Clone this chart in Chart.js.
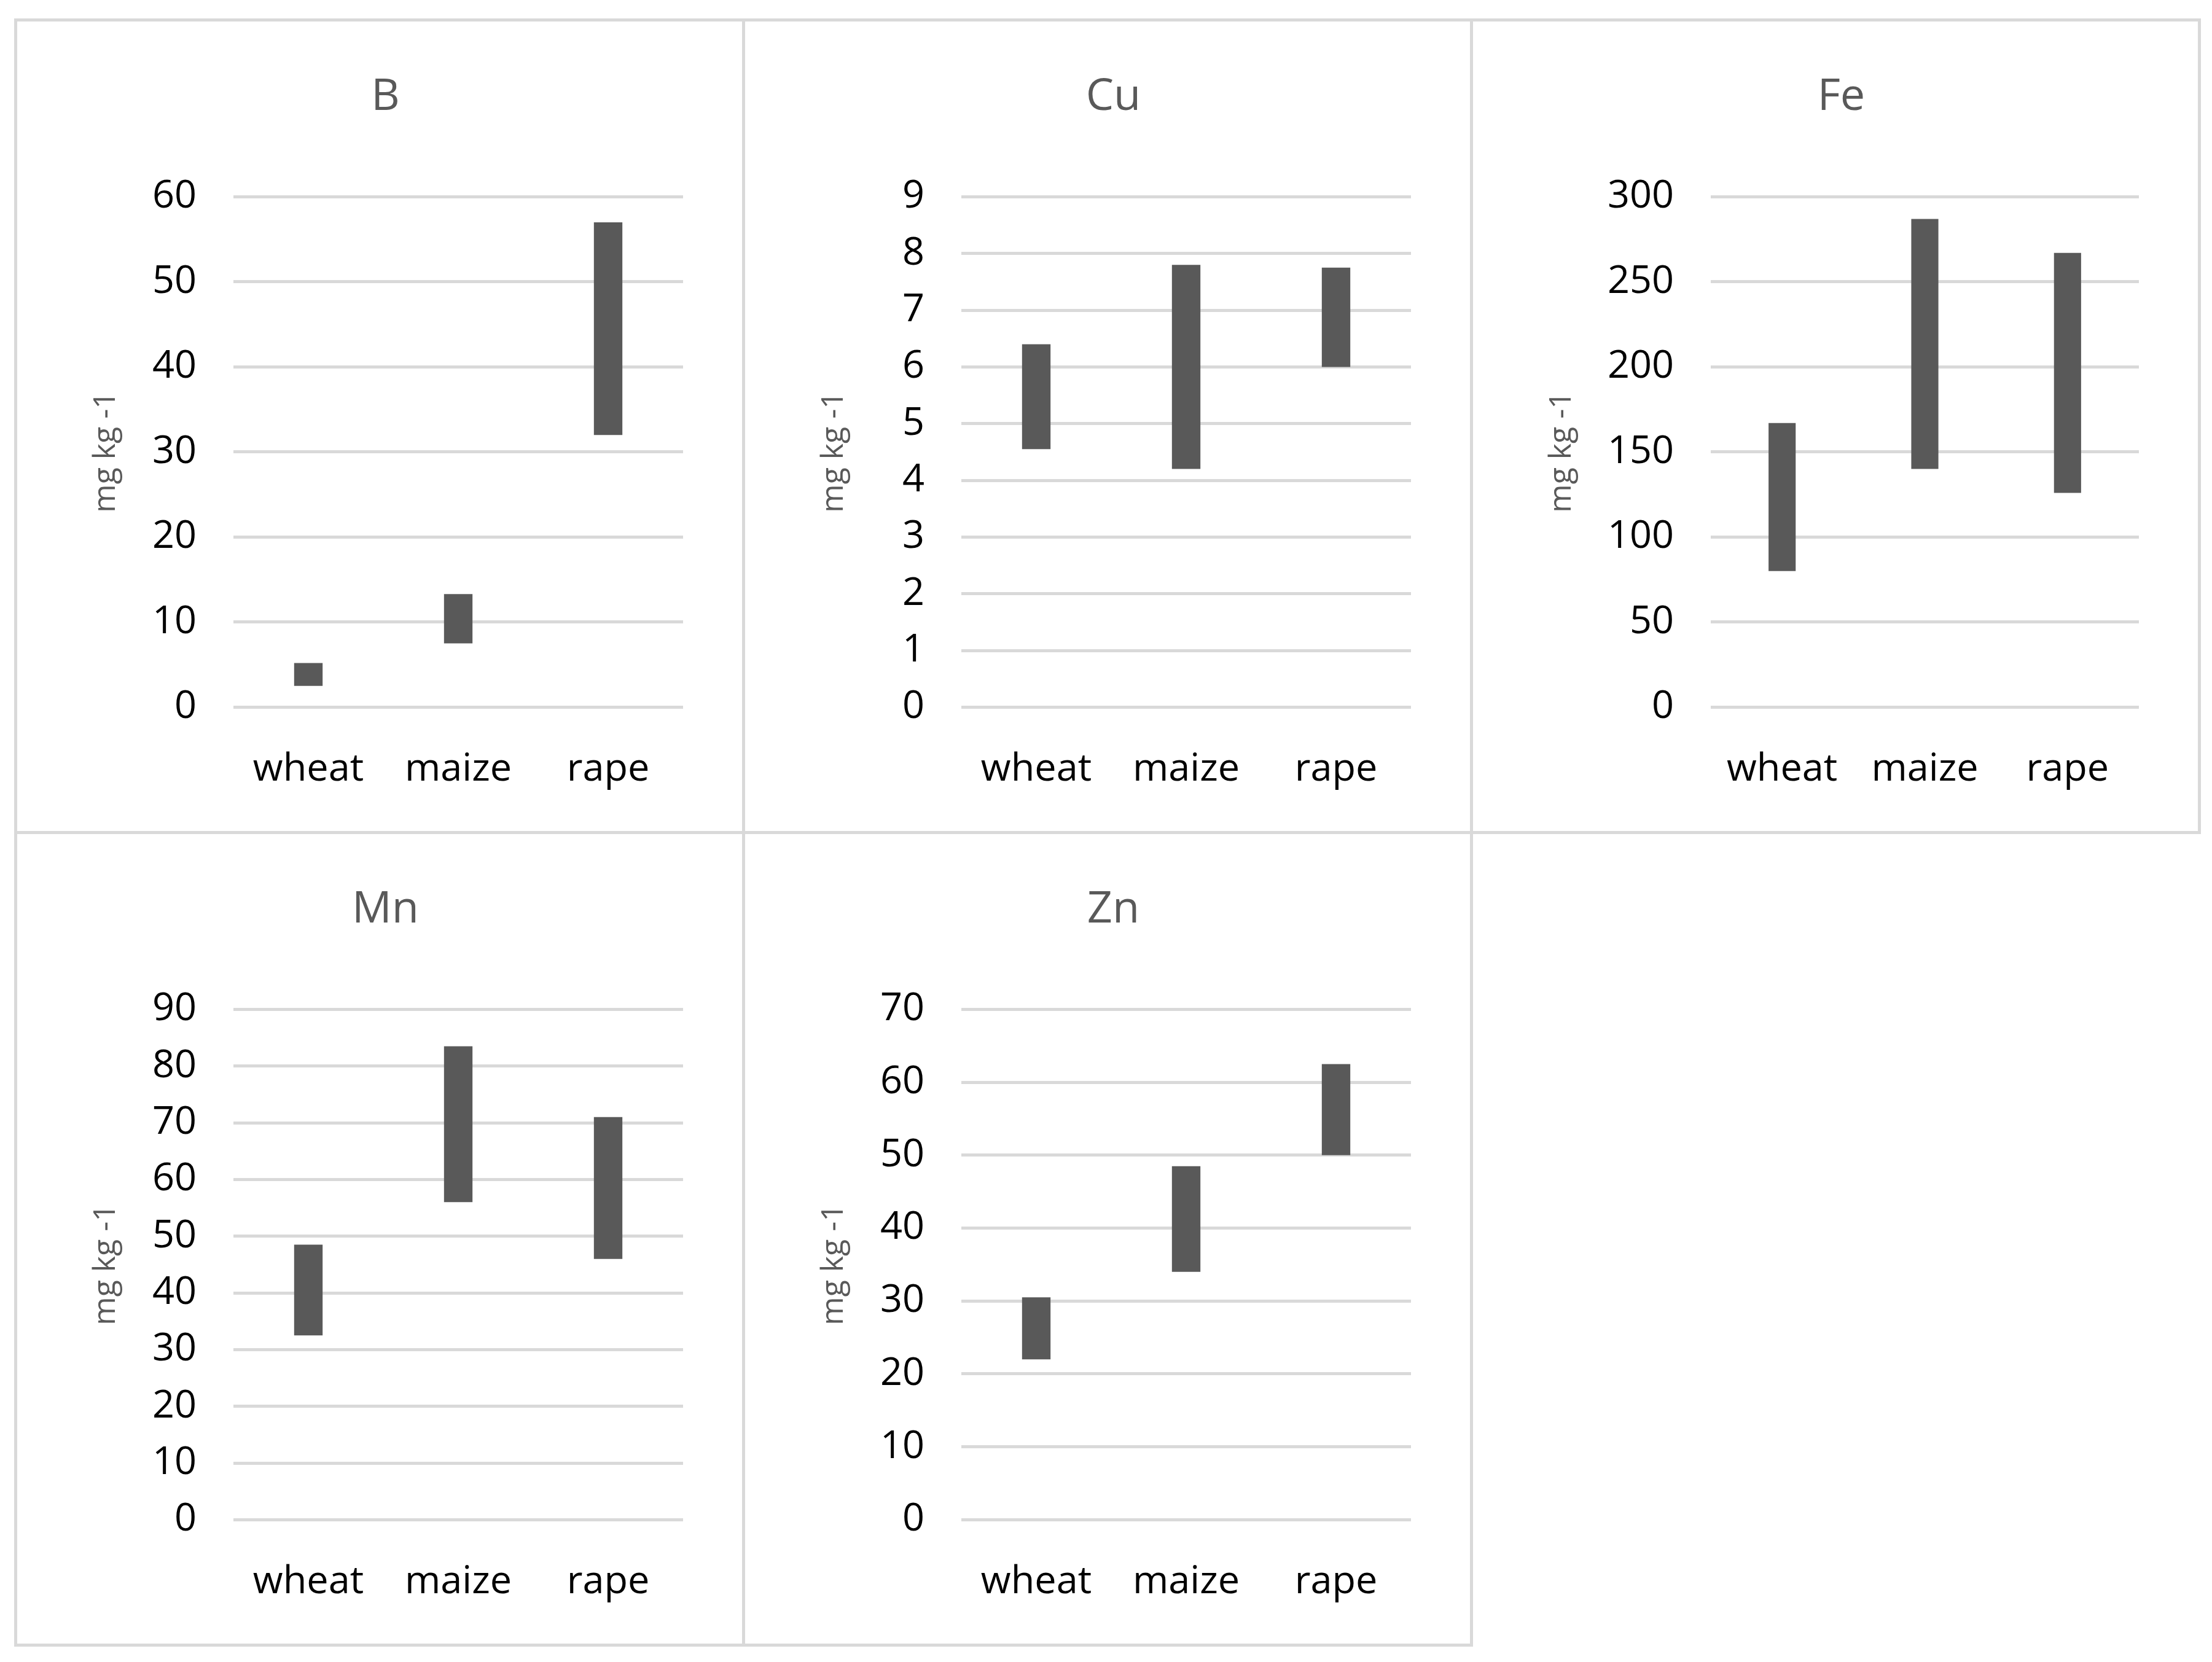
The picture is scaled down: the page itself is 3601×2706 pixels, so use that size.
<!DOCTYPE html>
<html><head><meta charset="utf-8">
<script src="https://cdn.jsdelivr.net/npm/chart.js@4"></script>
<style>
body{margin:0;background:#fff;width:3601px;height:2706px;position:relative;font-family:"Open Sans",sans-serif}
.panel{position:absolute;box-sizing:border-box;border:5px solid #d9d9d9;background:#fff}
.panel canvas{position:absolute;left:0;top:0}
</style></head><body>
<script>
const crops = ["wheat","maize","rape"];
// [low, high] per crop
const bRange  = [[2.5,5.2],[7.5,13.3],[32,57]];
const cuRange = [[4.55,6.4],[4.2,7.8],[6,7.75]];
const feRange = [[80,167],[140,287],[126,267]];
const mnRange = [[32.5,48.5],[56,83.5],[46,71]];
const znRange = [[22,30.5],[34,48.5],[50,62.5]];
const titles = ["B","Cu","Fe","Mn","Zn"];
const yMax  = [60,9,300,90,70];
const yStep = [10,1,50,10,10];
const ranges = [bRange,cuRange,feRange,mnRange,znRange];
const unitLabel = "mg kg -1";

const panels = [
  {x:23,y:30,w:1190,h:1328,left:352},
  {x:1208,y:30,w:1190,h:1328,left:352},
  {x:2393,y:30,w:1190,h:1328,left:387},
  {x:23,y:1353,w:1190,h:1328,left:352},
  {x:1208,y:1353,w:1190,h:1328,left:352}
];

panels.forEach((p,i)=>{
  const div=document.createElement("div");
  div.className="panel";
  Object.assign(div.style,{left:p.x+"px",top:p.y+"px",width:p.w+"px",height:p.h+"px"});
  const cv=document.createElement("canvas");
  cv.width=p.w-10; cv.height=p.h-10;
  cv.style.width=(p.w-10)+"px"; cv.style.height=(p.h-10)+"px";
  div.appendChild(cv);
  document.body.appendChild(div);
  new Chart(cv,{
    type:"bar",
    data:{labels:crops,datasets:[{data:ranges[i],backgroundColor:"#595959",barPercentage:0.19,categoryPercentage:1}]},
    options:{
      responsive:false,animation:false,devicePixelRatio:1,
      layout:{padding:{left:115,right:96,top:0,bottom:6}},
      plugins:{legend:{display:false},tooltip:{enabled:false},
        title:{display:true,text:titles[i],color:"#595959",font:{family:"Open Sans",size:72,weight:"normal"},padding:{top:80,bottom:119}}},
      scales:{
        x:{grid:{display:false},border:{display:false},
           ticks:{color:"#000",font:{family:"Open Sans",size:63},padding:56}},
        y:{min:0,max:yMax[i],
           afterFit:s=>{s.width=p.left-115;},
           grid:{color:"#d9d9d9",lineWidth:5,drawTicks:false},border:{display:false},
           ticks:{stepSize:yStep[i],color:"#000",font:{family:"Open Sans",size:63},padding:60},
           title:{display:true,text:unitLabel,color:"#595959",font:{family:"Open Sans",size:50},padding:0}}
      }
    }
  });
});
</script>
</body></html>
